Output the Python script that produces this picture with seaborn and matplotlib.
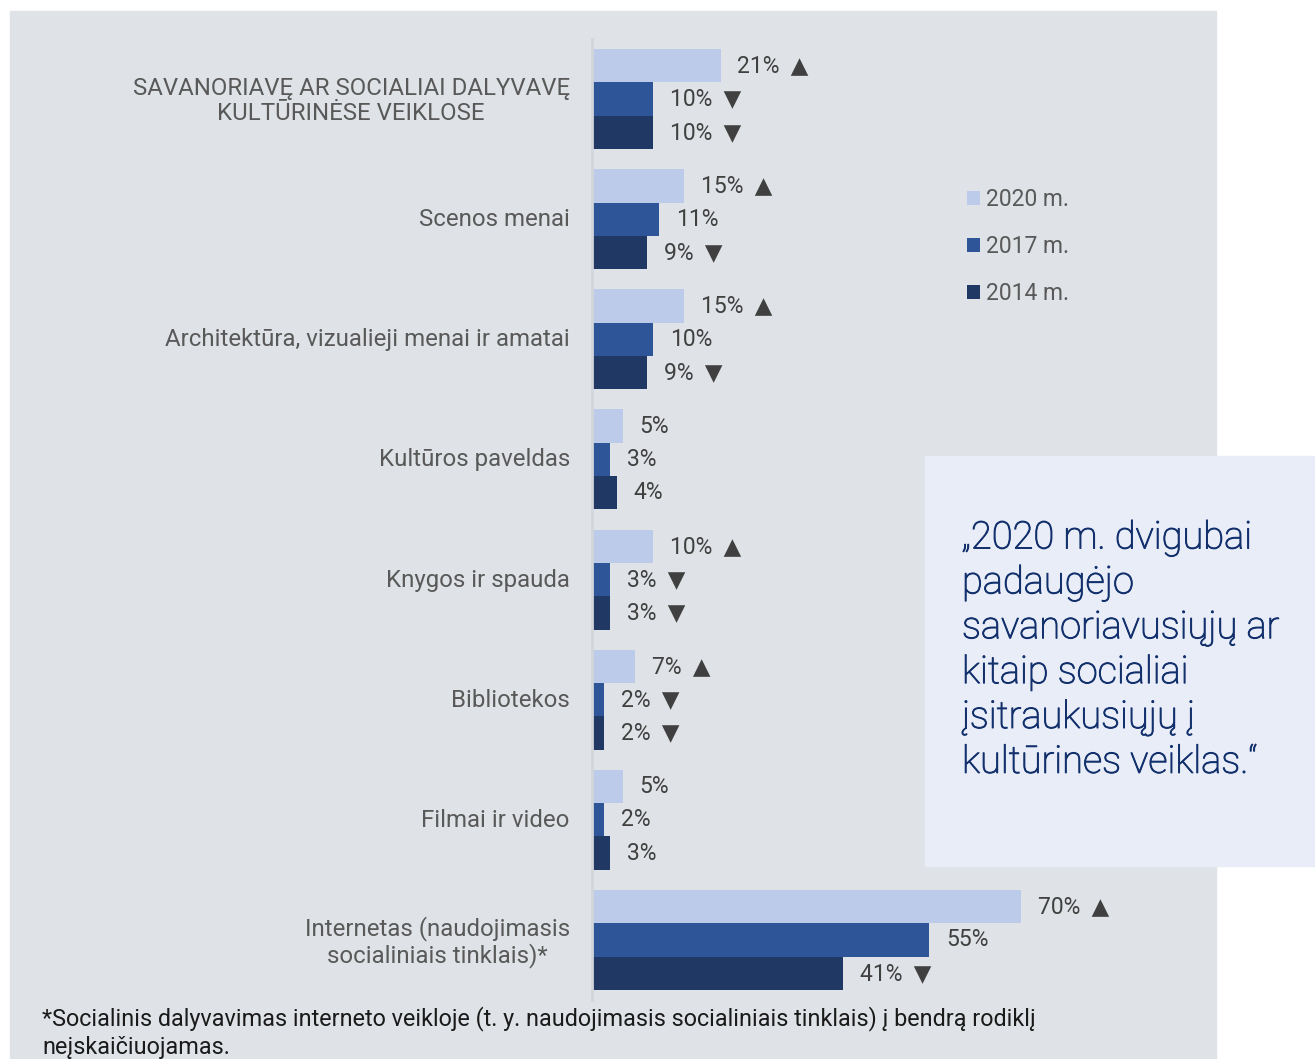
import pandas as pd
import seaborn as sns
import matplotlib.pyplot as plt
import matplotlib.transforms as mtransforms
import matplotlib.patheffects as pe
from matplotlib.patches import Rectangle

sns.set_style('white')
plt.rcParams['font.family'] = ['Roboto', 'DejaVu Sans']

categories = [
    'SAVANORIAVĘ AR SOCIALIAI DALYVAVĘ\nKULTŪRINĖSE VEIKLOSE',
    'Scenos menai',
    'Architektūra, vizualieji menai ir amatai',
    'Kultūros paveldas',
    'Knygos ir spauda',
    'Bibliotekos',
    'Filmai ir video',
    'Internetas (naudojimasis\nsocialiniais tinklais)*',
]
years = ['2020 m.', '2017 m.', '2014 m.']
v2020 = [21, 15, 15, 5, 10, 7, 5, 70]
v2017 = [10, 11, 10, 3, 3, 2, 2, 55]
v2014 = [10, 9, 9, 4, 3, 2, 3, 41]
m2020 = ['▲', '▲', '▲', '', '▲', '▲', '', '▲']
m2017 = ['▼', '', '', '', '▼', '▼', '', '']
m2014 = ['▼', '▼', '▼', '', '▼', '▼', '', '▼']
colors = ['#bdcbea', '#2e5597', '#1f3864']

quote = ('„2020 m. dvigubai\npadaugėjo\nsavanoriavusiųjų ar\nkitaip socialiai\n'
         'įsitraukusiųjų į\nkultūrines veiklas.“')
footnote = ('*Socialinis dalyvavimas interneto veikloje (t. y. naudojimasis socialiniais '
            'tinklais) į bendrą rodiklį\nneįskaičiuojamas.')

rows = []
for yr, vals, marks in zip(years, [v2020, v2017, v2014], [m2020, m2017, m2014]):
    for c, v, m in zip(categories, vals, marks):
        rows.append({'cat': c, 'year': yr, 'value': v, 'mark': m})
df = pd.DataFrame(rows)

W, H = 1315, 1059
fig = plt.figure(figsize=(W / 100, H / 100), dpi=100)
fig.patch.set_facecolor('white')

# grey panel + quote box (behind the axes)
fig.patches.append(Rectangle((10 / W, 0), (1216 - 10) / W, 1 - 11 / H,
                             transform=fig.transFigure, color='#dfe2e6', zorder=-2))
fig.patches.append(Rectangle((925 / W, 1 - 866 / H), (W - 925) / W, (866 - 456) / H,
                             transform=fig.transFigure, color='#e9edf8', zorder=-1))

ax = fig.add_axes([592 / W, 1 - 1000 / H, 613 / W, 961 / H])
ax.set_facecolor('none')
sns.barplot(data=df, y='cat', x='value', hue='year', hue_order=years,
            palette=colors, saturation=1, width=0.833, orient='h', ax=ax,
            edgecolor='none')

ax.set_xlim(0, 100)
ax.set_ylim(7.5, -0.5)
ax.set_xlabel('')
ax.set_ylabel('')
ax.set_xticks([])
for s in ['top', 'right', 'bottom']:
    ax.spines[s].set_visible(False)
ax.spines['left'].set_color('#d2d5d9')
ax.spines['left'].set_linewidth(2)
ax.tick_params(axis='y', length=0, pad=16, labelsize=17.3, labelcolor='#595959')
shift = mtransforms.ScaledTranslation(0, 2 / 100, fig.dpi_scale_trans)
for lab in ax.get_yticklabels():
    lab.set_multialignment('center')
    lab.set_linespacing(1.14)
    lab.set_transform(lab.get_transform() + shift)

for cont, yr in zip(ax.containers, years):
    sub = df[df['year'] == yr]
    labels = [f'{v}%  {m}'.strip() for v, m in zip(sub['value'], sub['mark'])]
    ax.bar_label(cont, labels=labels, padding=12, fontsize=16.5, color='#404040')

handles, labels = ax.get_legend_handles_labels()
ax.legend(handles, labels, loc='upper left', bbox_to_anchor=(967 / W, 1 - 188 / H),
          bbox_transform=fig.transFigure, frameon=False, fontsize=16.5,
          handlelength=0.55, handleheight=0.55, handletextpad=0.3,
          labelspacing=1.05, borderpad=0, borderaxespad=0, labelcolor='#595959')

qcol = '#12306c'
fig.text(962 / W, 1 - 519 / H, quote, ha='left', va='top', fontsize=27.4,
         fontweight='light', color=qcol, linespacing=1.25,
         path_effects=[pe.withStroke(linewidth=0.7, foreground=qcol)])
fig.text(42 / W, 1 - 1006 / H, footnote, ha='left', va='top', fontsize=16.8,
         color='#1a1a1a', linespacing=1.27)

fig.savefig('out.png', dpi=100)
